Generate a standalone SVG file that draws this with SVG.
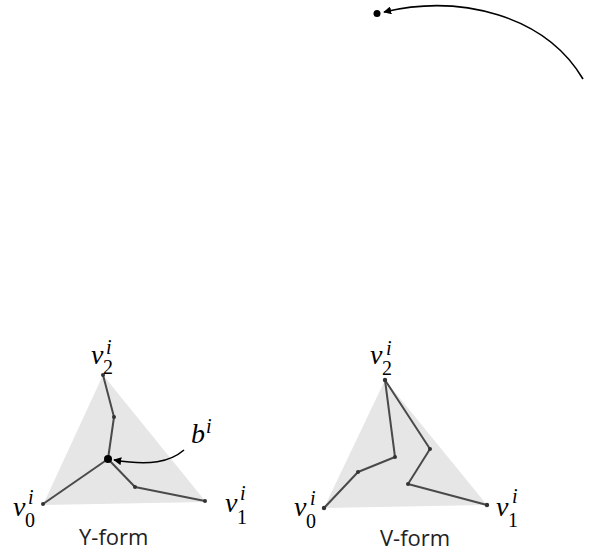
<svg xmlns="http://www.w3.org/2000/svg" width="592" height="552" viewBox="0 0 592 552">
<style>
.tri{fill:#e6e6e6;stroke:none}
.edge{fill:none;stroke:#4a4a4a;stroke-width:2;stroke-linejoin:round}
.pt{fill:#333}
.arc{fill:none;stroke:#000;stroke-width:1.6}
.m{font-family:"Liberation Serif",serif;font-style:italic;font-size:28px;fill:#000}
.s{font-family:"Liberation Serif",serif;font-size:20px;fill:#000}
.si{font-family:"Liberation Serif",serif;font-style:italic;font-size:20px;fill:#000}
.cap{font-family:"Open Sans",sans-serif;font-size:22px;fill:#222}
</style>
<defs>
<marker id="ah" viewBox="0 0 10 10" refX="9" refY="5" markerWidth="8" markerHeight="8" orient="auto" markerUnits="userSpaceOnUse">
<path d="M0,0 L10,5 L0,10 z" fill="#000"/>
</marker>
</defs>
<g id="top-point">
<circle cx="377" cy="13.5" r="3.5" fill="#000"/>
</g>
<g id="y-form">
<polygon class="tri" points="103,375 43,505 206,502"/>
<polyline class="edge" points="103,375 114,417 108,459"/>
<polyline class="edge" points="108,459 43,504"/>
<polyline class="edge" points="108,459 135,487 205,501"/>
<circle class="pt" cx="103" cy="375" r="2"/>
<circle class="pt" cx="114" cy="417" r="2"/>
<circle class="pt" cx="43" cy="504" r="2"/>
<circle class="pt" cx="135" cy="487" r="2"/>
<circle class="pt" cx="205" cy="501" r="2"/>
<circle cx="108" cy="459" r="4" fill="#000"/>
<text class="m" x="91" y="364">v</text><text class="s" x="103" y="374">2</text><text class="si" x="106" y="354">i</text>
<text class="m" x="13" y="516">v</text><text class="s" x="25" y="527">0</text><text class="si" x="28" y="504">i</text>
<text class="m" x="225" y="512">v</text><text class="s" x="237" y="524">1</text><text class="si" x="240" y="500">i</text>
<text class="m" x="191" y="443">b</text><text class="si" x="206" y="433">i</text>
<text class="cap" x="79" y="545">Y-form</text>
</g>
<g id="v-form">
<polygon class="tri" points="385,380 324,508 487,505"/>
<polyline class="edge" points="385,380 395,457 358,472 324,508"/>
<polyline class="edge" points="385,380 430,449 408,484 487,505"/>
<circle class="pt" cx="385" cy="380" r="2.2"/>
<circle class="pt" cx="395" cy="457" r="2"/>
<circle class="pt" cx="358" cy="472" r="2"/>
<circle class="pt" cx="324" cy="508" r="2.2"/>
<circle class="pt" cx="430" cy="449" r="2"/>
<circle class="pt" cx="408" cy="484" r="2"/>
<circle class="pt" cx="487" cy="505" r="2.2"/>
<text class="m" x="370" y="364">v</text><text class="s" x="382" y="375">2</text><text class="si" x="386" y="355">i</text>
<text class="m" x="294" y="516">v</text><text class="s" x="306" y="528">0</text><text class="si" x="310" y="505">i</text>
<text class="m" x="496" y="516">v</text><text class="s" x="508" y="527">1</text><text class="si" x="512" y="503">i</text>
<text class="cap" x="380" y="546">V-form</text>
</g>
<g id="connectors">
<path class="arc" d="M583,79 C545,15 460,-6 384,12" marker-end="url(#ah)"/>
<path class="arc" d="M184,450 C170,462 150,466 114,460" marker-end="url(#ah)"/>
</g>
</svg>
